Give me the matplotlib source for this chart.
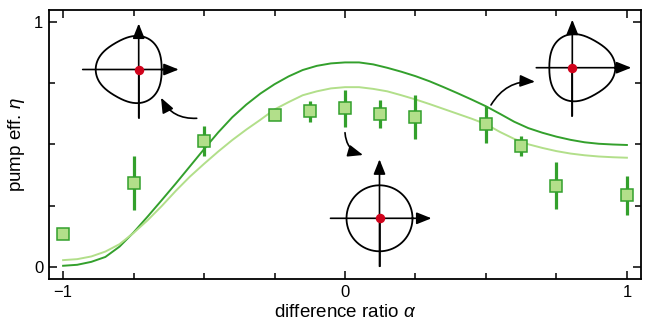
import numpy as np
import matplotlib.pyplot as plt
from matplotlib.ticker import MultipleLocator, FixedLocator

plt.rcParams["font.family"] = ["Liberation Sans", "DejaVu Sans"]
plt.rcParams["mathtext.fontset"] = "custom"
plt.rcParams["mathtext.rm"] = "Liberation Sans"
plt.rcParams["mathtext.it"] = "Liberation Sans:italic"
plt.rcParams["axes.unicode_minus"] = True

DARK = "#33a02c"
LIGHT = "#b2df8a"

# measured points
alpha_meas = [-1, -0.75, -0.5, -0.25, -0.125, 0, 0.125, 0.25, 0.5, 0.625, 0.75, 1]
eta_meas = [0.135, 0.343, 0.513, 0.619, 0.634, 0.646, 0.622, 0.611, 0.581, 0.493, 0.331, 0.291]
eta_err = [0.0, 0.11, 0.06, 0.0, 0.042, 0.075, 0.057, 0.09, 0.077, 0.04, 0.096, 0.078]

# theory curves
alpha_th = [-1.0, -0.95, -0.9, -0.85, -0.8, -0.75, -0.7, -0.65, -0.6, -0.55, -0.5,
            -0.45, -0.4, -0.35, -0.3, -0.25, -0.2, -0.15, -0.1, -0.05, 0.0,
            0.05, 0.1, 0.15, 0.2, 0.25, 0.3, 0.35, 0.4, 0.45, 0.5,
            0.55, 0.6, 0.65, 0.7, 0.75, 0.8, 0.85, 0.9, 0.95, 1.0]
eta_dark = [0.004, 0.008, 0.02, 0.04, 0.082, 0.14, 0.205, 0.272, 0.34, 0.41, 0.48,
            0.548, 0.61, 0.662, 0.707, 0.745, 0.777, 0.803, 0.82, 0.83, 0.834,
            0.834, 0.826, 0.812, 0.796, 0.778, 0.757, 0.733, 0.708, 0.682, 0.655,
            0.624, 0.592, 0.566, 0.547, 0.531, 0.518, 0.508, 0.502, 0.499, 0.497]
eta_light = [0.027, 0.031, 0.042, 0.062, 0.092, 0.138, 0.19, 0.248, 0.31, 0.368, 0.42,
             0.47, 0.517, 0.56, 0.60, 0.642, 0.672, 0.70, 0.716, 0.728, 0.733,
             0.733, 0.726, 0.716, 0.70, 0.683, 0.664, 0.644, 0.624, 0.604, 0.582,
             0.55, 0.522, 0.50, 0.485, 0.472, 0.462, 0.455, 0.45, 0.447, 0.445]

xticks = [-1, 0, 1]
xticklabels = ["\u22121", "0", "1"]
yticks = [0, 1]
yticklabels = ["0", "1"]

fig = plt.figure(figsize=(6.46, 3.23), dpi=100)
ax = fig.add_axes([49 / 646, 44 / 323, 592 / 646, 269.5 / 323])

ax.plot(alpha_th, eta_dark, color=DARK, lw=1.4, zorder=2)
ax.plot(alpha_th, eta_light, color=LIGHT, lw=1.4, zorder=2)
ax.errorbar(alpha_meas, eta_meas, yerr=eta_err, fmt="none", ecolor=DARK,
            elinewidth=2.3, capsize=0, zorder=3)
ax.plot(alpha_meas, eta_meas, "s", ms=8.6, mfc=LIGHT, mec=DARK, mew=1.1,
        ls="none", zorder=4)

ax.set_xlim(-1.05, 1.05)
ax.set_ylim(-0.05, 1.05)
ax.xaxis.set_major_locator(FixedLocator(xticks))
ax.set_xticklabels(xticklabels)
ax.yaxis.set_major_locator(FixedLocator(yticks))
ax.set_yticklabels(yticklabels)
ax.xaxis.set_minor_locator(MultipleLocator(0.25))
ax.yaxis.set_minor_locator(MultipleLocator(0.25))
ax.tick_params(which="both", direction="in", top=True, right=True,
               width=1.1, labelsize=12, pad=4)
ax.tick_params(which="major", length=5.5)
ax.tick_params(which="minor", length=4)
for s in ax.spines.values():
    s.set_linewidth(1.3)

ax.set_xlabel(r"difference ratio $\alpha$", fontsize=13.5, labelpad=3)
ax.set_ylabel(r"pump eff. $\eta$", fontsize=13.5, labelpad=5)

# overlay in pixel coordinates for the phase-space sketches
ov = fig.add_axes([0, 0, 1, 1], zorder=10)
ov.set_xlim(0, 646)
ov.set_ylim(323, 0)
ov.axis("off")
ov.patch.set_visible(False)


def axis_arrow(x0, y0, x1, y1):
    ov.annotate("", xy=(x1, y1), xytext=(x0, y0),
                arrowprops=dict(arrowstyle="-|>,head_length=0.45,head_width=0.18",
                                color="k", lw=1.2, shrinkA=0, shrinkB=0,
                                mutation_scale=20))


def sketch(dx, dy, shift, phi0, a, left, right, up, down):
    th = np.linspace(0, 2 * np.pi, 300)
    r = 33 * (1 + a * np.cos(3 * (th - phi0)))
    ov.plot(dx + shift + r * np.cos(th), dy - r * np.sin(th), color="k", lw=1.3)
    ov.plot([dx, dx], [dy, dy + down], color="k", lw=1.2)
    axis_arrow(dx, dy + down, dx, dy - up)
    axis_arrow(dx - left, dy, dx + right, dy)
    ov.plot(dx, dy, "o", ms=5.8, color="#d0021b", zorder=5)


sketch(138.7, 69.5, -7.7, np.pi, 0.07, 56, 40, 46, 48)
sketch(379.5, 218.3, 0, 0, 0.0, 49, 52, 59, 48)
sketch(572.3, 67.7, 7.7, 0, 0.07, 36, 59, 48, 48)


def bent_arrow(x0, y0, x1, y1, rad):
    ov.annotate("", xy=(x1, y1), xytext=(x0, y0),
                arrowprops=dict(arrowstyle="-|>,head_length=0.45,head_width=0.18",
                                color="k", lw=1.2, shrinkA=0, shrinkB=0,
                                mutation_scale=20,
                                connectionstyle=f"arc3,rad={rad}"))


bent_arrow(196.7, 118.3, 161, 97.7, -0.32)
bent_arrow(345, 132.7, 363, 155, 0.35)
bent_arrow(491, 105, 535, 81.7, -0.3)

fig.savefig("out.png", dpi=100)
